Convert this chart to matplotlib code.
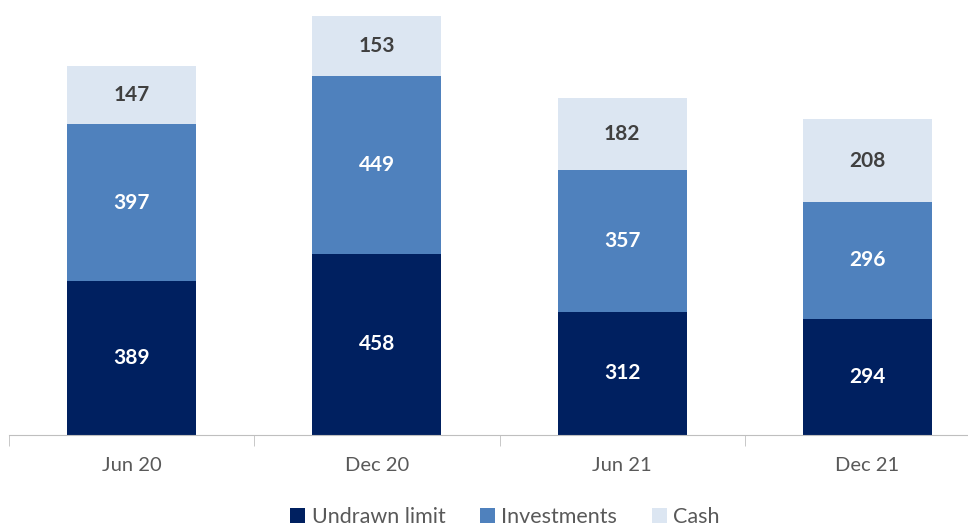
import matplotlib.pyplot as plt
import numpy as np

periods = ["Jun 20", "Dec 20", "Jun 21", "Dec 21"]
undrawn = [389, 458, 312, 294]
investments = [397, 449, 357, 296]
cash = [147, 153, 182, 208]

plt.rcParams['font.family'] = ['Lato', 'DejaVu Sans']

fig = plt.figure(figsize=(9.68, 5.27), dpi=100)
# axes runs a little past the right edge, like the original
ax = fig.add_axes([9 / 968, 92 / 527, 981 / 968, 435 / 527])

x = np.arange(len(periods))
w = 0.525
c_dark, c_mid, c_light = "#002060", "#4F81BD", "#DCE6F2"

b1 = ax.bar(x, undrawn, w, color=c_dark, label="Undrawn limit")
b2 = ax.bar(x, investments, w, bottom=undrawn, color=c_mid, label="Investments")
bottom2 = np.array(undrawn) + np.array(investments)
b3 = ax.bar(x, cash, w, bottom=bottom2, color=c_light, label="Cash")

for bars, txtcol in [(b1, "white"), (b2, "white"), (b3, "#404040")]:
    ax.bar_label(bars, label_type="center", color=txtcol, fontsize=15, fontweight="bold")

ax.set_xlim(-0.5, 3.5)
ax.set_ylim(0, 1100)
ax.set_xticks(x)
ax.set_xticklabels(periods, fontsize=14.5, color="#595959")
ax.set_xticks(np.arange(-0.5, 4, 1), minor=True)
ax.tick_params(axis="x", which="major", length=0, pad=16)
ax.tick_params(axis="x", which="minor", length=8, color="#BFBFBF")
ax.set_yticks([])
for s in ["top", "right", "left"]:
    ax.spines[s].set_visible(False)
ax.spines["bottom"].set_color("#BFBFBF")

fig.legend(handles=[b1, b2, b3], loc="center", bbox_to_anchor=(505 / 968, 10 / 527),
           ncol=3, frameon=False, fontsize=15.5, handlelength=0.7, handleheight=0.7,
           handletextpad=0.3, columnspacing=1.6, labelcolor="#595959")

fig.savefig("out.png", dpi=100)
